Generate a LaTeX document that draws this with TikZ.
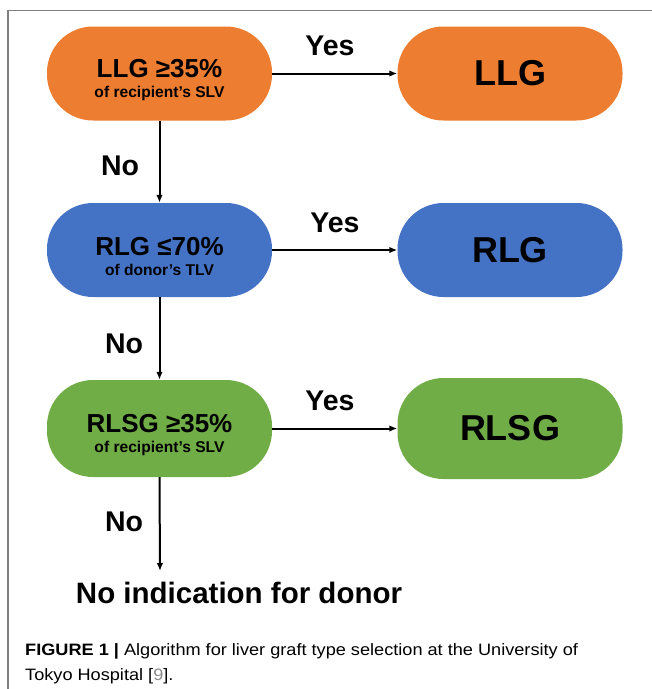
\documentclass[tikz,border=0pt]{standalone}
\usepackage{fontspec}
\setmainfont{Liberation Sans}
\newfontfamily\capfont[FakeStretch=1.1]{Liberation Sans}
\usetikzlibrary{arrows.meta}
\definecolor{cOrange}{HTML}{ED7D31}
\definecolor{cBlue}{HTML}{4472C4}
\definecolor{cGreen}{HTML}{70AD47}
\definecolor{frameGray}{HTML}{7F7F7F}
\tikzset{
  pill/.style={rectangle, rounded corners=46pt, minimum width=225pt, minimum height=94pt,
    inner sep=0pt, align=center, font=\bfseries\fontsize{15.6}{20}\selectfont},
  flow/.style={line width=2pt, -{Latex[length=8pt,width=6.5pt]}},
  lbl/.style={font=\bfseries\fontsize{28.5}{30}\selectfont, inner sep=0pt, anchor=base},
  big/.style={font=\bfseries\fontsize{36}{38}\selectfont}
}
\newcommand{\cond}[2]{{\fontsize{26}{20}\selectfont\rule{0pt}{31pt}#1}\\#2}
\begin{document}
\begin{tikzpicture}[x=1pt,y=-1pt]
  \useasboundingbox (0,0) rectangle (652,689);
  % page frame
  \draw[frameGray, line width=1.3pt] (8,689) -- (8,10.5) -- (652,10.5);

  % decision column
  \node[pill, fill=cOrange] (q1) at (159.5,73.5) {\cond{LLG ≥35\%}{of recipient’s SLV}};
  \node[pill, fill=cBlue]   (q2) at (159.5,250) {\cond{RLG ≤70\%}{of donor’s TLV}};
  \node[pill, fill=cGreen, minimum height=97pt] (q3) at (159.5,428.5) {\cond{RLSG ≥35\%}{of recipient’s SLV}};

  % outcome column
  \node[pill, fill=cOrange, big] (r1) at (510,73.5) {LLG};
  \node[pill, fill=cBlue, big]   (r2) at (510,250) {RLG};
  \node[pill, fill=cGreen, big, minimum height=101pt] (r3) at (510,428.5) {RLSG};

  \node[font=\bfseries\fontsize{29.5}{31}\selectfont, anchor=base] (none) at (239,603) {No indication for donor};
  \coordinate (stop) at (160,571);

  % connectors
  \draw[flow] (q1.east) -- (r1.west);
  \draw[flow] (q2.east) -- (r2.west);
  \draw[flow] (q3.east) -- (r3.west);
  \draw[flow] (q1.south) -- (q2.north);
  \draw[flow] (q2.south) -- (q3.north);
  \draw[flow] (q3.south) -- (stop);

  % branch labels
  \node[lbl] (y1) at (330,55) {Yes};
  \node[lbl] (y2) at (335,232) {Yes};
  \node[lbl] (y3) at (330,410) {Yes};
  \node[lbl] (n1) at (120,175) {No};
  \node[lbl] (n2) at (124,353) {No};
  \node[lbl] (n3) at (124,531) {No};

  % caption
  \node[anchor=base west, align=left, inner sep=0pt, font=\capfont\fontsize{16.5}{25}\selectfont]
    (cap) at (25,655) {\textbf{FIGURE 1 |} Algorithm for liver graft type selection at the University of};
  \node[anchor=base west, inner sep=0pt, font=\capfont\fontsize{16.5}{25}\selectfont]
    (cap2) at (25,680) {Tokyo Hospital [{\color{black!45}9}].};
\end{tikzpicture}
\end{document}
